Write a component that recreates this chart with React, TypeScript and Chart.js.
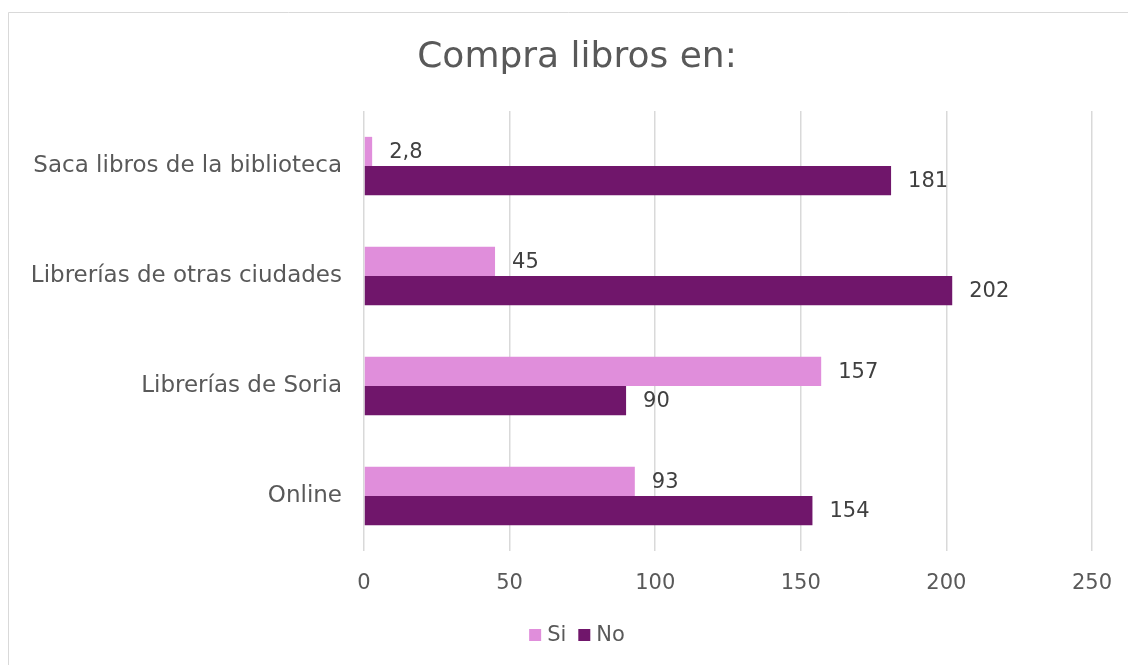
import React, { useEffect, useRef } from "react";
import { Chart, registerables } from "chart.js";

Chart.register(...registerables);

const categories = [
  "Saca libros de la biblioteca",
  "Librerías de otras ciudades",
  "Librerías de Soria",
  "Online",
];
const siValues = [2.8, 45, 157, 93];
const noValues = [181, 202, 90, 154];
const seriesNames = ["Si", "No"];
const seriesColors = ["#E08EDB", "#70166B"];
const titleText = "Compra libros en:";

const FONT = "'DejaVu Sans', sans-serif";
const CENTER_X = 577;

const borderPlugin = {
  id: "frameBorder",
  beforeDraw(chart: any) {
    const ctx = chart.ctx;
    ctx.save();
    ctx.fillStyle = "#ffffff";
    ctx.fillRect(0, 0, chart.width, chart.height);
    ctx.strokeStyle = "#d9d9d9";
    ctx.lineWidth = 1;
    ctx.beginPath();
    ctx.moveTo(8.5, chart.height + 2);
    ctx.lineTo(8.5, 12.5);
    ctx.lineTo(chart.width + 2, 12.5);
    ctx.stroke();
    ctx.restore();
  },
};

const titleLegendPlugin = {
  id: "titleLegend",
  afterDraw(chart: any) {
    const ctx = chart.ctx;
    ctx.save();
    // title
    ctx.font = `36px ${FONT}`;
    ctx.fillStyle = "#595959";
    ctx.textAlign = "center";
    ctx.textBaseline = "middle";
    ctx.fillText(titleText, CENTER_X, 58);
    // legend
    ctx.font = `21px ${FONT}`;
    ctx.textAlign = "left";
    const box = 12;
    const gap = 6;
    const itemGap = 12;
    const widths = seriesNames.map((n) => ctx.measureText(n).width);
    const total =
      widths.reduce((a, w) => a + box + gap + w, 0) +
      itemGap * (seriesNames.length - 1);
    let x = CENTER_X - total / 2;
    const y = 635;
    seriesNames.forEach((n, i) => {
      ctx.fillStyle = seriesColors[i];
      ctx.fillRect(x, y - box / 2, box, box);
      x += box + gap;
      ctx.fillStyle = "#595959";
      ctx.fillText(n, x, y + 1);
      x += widths[i] + itemGap;
    });
    ctx.restore();
  },
};

const labelPlugin = {
  id: "barValueLabels",
  afterDatasetsDraw(chart: any) {
    const ctx = chart.ctx;
    ctx.save();
    ctx.font = `21px ${FONT}`;
    ctx.fillStyle = "#404040";
    ctx.textBaseline = "middle";
    ctx.textAlign = "left";
    chart.data.datasets.forEach((ds: any, di: number) => {
      const meta = chart.getDatasetMeta(di);
      meta.data.forEach((el: any, i: number) => {
        const v = ds.data[i];
        const txt = String(v).replace(".", ",");
        ctx.fillText(txt, el.x + 17, el.y + 1);
      });
    });
    ctx.restore();
  },
};

export default function App() {
  const ref = useRef<HTMLCanvasElement>(null);
  useEffect(() => {
    if (!ref.current) return;
    const chart = new Chart(ref.current, {
      type: "bar",
      data: {
        labels: categories,
        datasets: [
          {
            label: seriesNames[0],
            data: siValues,
            backgroundColor: seriesColors[0],
            barPercentage: 1,
            categoryPercentage: 0.53,
          },
          {
            label: seriesNames[1],
            data: noValues,
            backgroundColor: seriesColors[1],
            barPercentage: 1,
            categoryPercentage: 0.53,
          },
        ],
      },
      options: {
        indexAxis: "y",
        animation: false,
        responsive: false,
        maintainAspectRatio: false,
        layout: { padding: { left: 0, right: 36, top: 111, bottom: 52 } },
        scales: {
          x: {
            min: 0,
            max: 250,
            ticks: {
              stepSize: 50,
              color: "#595959",
              font: { family: FONT, size: 21 },
              padding: 20,
            },
            grid: { color: "#d9d9d9", lineWidth: 1.5, drawTicks: false },
            border: { display: false },
            afterFit(scale: any) {
              scale.height = 62;
              scale.paddingLeft = 0;
              scale.paddingRight = 0;
            },
          },
          y: {
            ticks: {
              color: "#595959",
              font: { family: FONT, size: 23 },
              padding: 22,
            },
            grid: { display: false, drawTicks: false },
            border: { display: false },
            afterFit(scale: any) {
              scale.width = 364;
              scale.paddingTop = 0;
              scale.paddingBottom = 0;
            },
          },
        },
        plugins: {
          title: { display: false },
          legend: { display: false },
          tooltip: { enabled: false },
        },
      },
      plugins: [borderPlugin, labelPlugin, titleLegendPlugin],
    });
    return () => chart.destroy();
  }, []);
  return (
    <canvas
      ref={ref}
      width={1128}
      height={665}
      style={{ position: "fixed", left: 0, top: 0, width: 1128, height: 665 }}
    />
  );
}
